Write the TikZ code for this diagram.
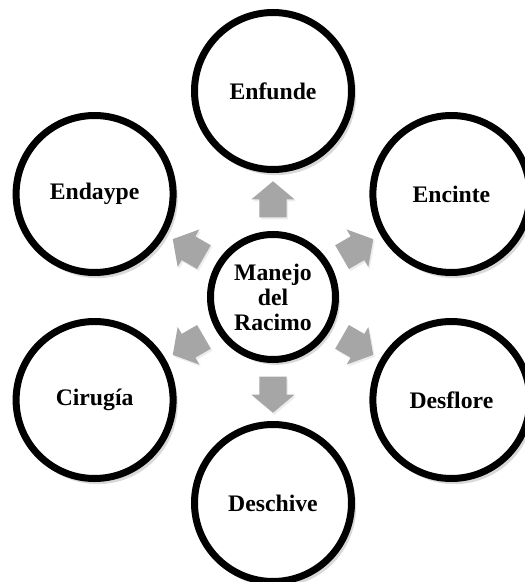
\documentclass[tikz,border=0pt]{standalone}
\usepackage{fontspec}
\setmainfont{Liberation Serif}
\usetikzlibrary{calc,shapes.arrows,shadows}
\definecolor{arrowgrey}{HTML}{A6A6A6}
\tikzset{
  ring/.style={circle, draw=black, line width=7pt, fill=white, inner sep=0pt,
    minimum size=157pt, align=center, font=\fontsize{23.7}{25}\selectfont\bfseries,
    drop shadow={shadow xshift=3pt, shadow yshift=-4pt, shadow scale=1.02, opacity=0.3}},
  hub/.style={ring, minimum size=125pt},
  blockarrow/.style={single arrow, fill=arrowgrey, draw=none, inner xsep=0pt,
    inner ysep=13.5pt, minimum height=36pt, single arrow head extend=8pt,
    single arrow tip angle=100,
    drop shadow={shadow xshift=1.5pt, shadow yshift=-2pt, opacity=0.15}},
}

\begin{document}
\begin{tikzpicture}[x=1pt,y=1pt]
  \useasboundingbox (-273,-285) rectangle (252,297);
  \node[hub] (hub) at (0,0) {Manejo\\del\\Racimo};
  \foreach \nm/\ang/\lab in {enf/90/Enfunde, enc/30/Encinte, dfl/-30/Desflore,
      dch/-90/Deschive, cir/-150/Cirugía, eny/150/Endaype} {
    \node[ring] (\nm) at (\ang:206) {\lab};
    \node[blockarrow, rotate=\ang] (arr-\nm) at (\ang:92) {};
  }
\end{tikzpicture}
\end{document}
